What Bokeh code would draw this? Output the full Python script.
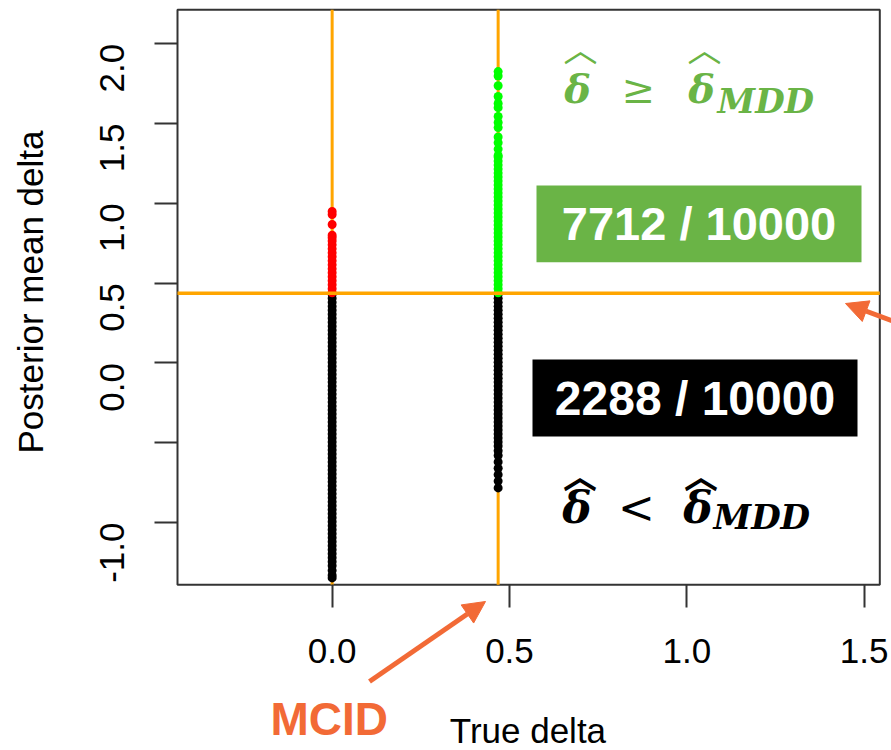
import math
from bokeh.plotting import figure
from bokeh.models import (Range1d, FixedTicker, BoxAnnotation, Label, Arrow,
                          NormalHead, ColumnDataSource, PrintfTickFormatter)
from bokeh.embed import file_html
from bokeh.resources import INLINE

# ---------------- data ----------------
mcid = 0.468          # true delta of the second scenario (= MCID)
mdd = 0.437           # posterior-mean threshold (delta_MDD)

xlim = (-0.436, 1.544)   # plotting region (R "usr")
ylim = (-1.39, 2.213)

x_ticks = [0.0, 0.5, 1.0, 1.5]
y_ticks = [-1.0, -0.5, 0.0, 0.5, 1.0, 1.5, 2.0]

# true delta = 0, posterior mean >= MDD (red)
red_y = [0.44, 0.465, 0.49, 0.515, 0.54, 0.565, 0.59, 0.615, 0.64, 0.665, 0.69,
         0.715, 0.74, 0.765, 0.785, 0.80, 0.868, 0.93, 0.949]
# true delta = 0, posterior mean < MDD (black)
black0_y = [0.43, 0.405, 0.38, 0.355, 0.33, 0.305, 0.28, 0.255, 0.23, 0.205, 0.18,
            0.155, 0.13, 0.105, 0.08, 0.055, 0.03, 0.005, -0.02, -0.045, -0.07,
            -0.095, -0.12, -0.145, -0.17, -0.195, -0.22, -0.245, -0.27, -0.295,
            -0.32, -0.345, -0.37, -0.395, -0.42, -0.445, -0.47, -0.495, -0.52,
            -0.545, -0.57, -0.595, -0.62, -0.645, -0.67, -0.695, -0.72, -0.745,
            -0.77, -0.795, -0.82, -0.845, -0.87, -0.895, -0.92, -0.945, -0.97,
            -0.995, -1.02, -1.045, -1.07, -1.095, -1.12, -1.145, -1.17, -1.195,
            -1.22, -1.245, -1.27, -1.30, -1.33, -1.347]
# true delta = MCID, posterior mean >= MDD (green)
green_y = [0.44, 0.465, 0.49, 0.515, 0.54, 0.565, 0.59, 0.615, 0.64, 0.665, 0.69,
           0.715, 0.74, 0.765, 0.79, 0.815, 0.84, 0.865, 0.89, 0.915, 0.94, 0.965,
           0.99, 1.015, 1.04, 1.065, 1.09, 1.115, 1.14, 1.165, 1.19, 1.215, 1.24,
           1.265, 1.29, 1.30, 1.34, 1.38, 1.416, 1.475, 1.507, 1.545, 1.60, 1.626,
           1.67, 1.737, 1.798, 1.826]
# true delta = MCID, posterior mean < MDD (black)
black1_y = [0.43, 0.405, 0.38, 0.355, 0.33, 0.305, 0.28, 0.255, 0.23, 0.205, 0.18,
            0.155, 0.13, 0.105, 0.08, 0.055, 0.03, 0.005, -0.02, -0.045, -0.07,
            -0.095, -0.12, -0.145, -0.17, -0.195, -0.22, -0.245, -0.27, -0.295,
            -0.32, -0.345, -0.37, -0.395, -0.42, -0.445, -0.47, -0.495, -0.52,
            -0.55, -0.58, -0.62, -0.66, -0.70, -0.74, -0.783]

count_hi = "7712 / 10000"
count_lo = "2288 / 10000"

# ---------------- page geometry ----------------
W, H = 891, 750
box_px = (177.0, 879.3, 9.3, 584.3)      # left, right, top, bottom of the R box
sx = (box_px[1] - box_px[0]) / (xlim[1] - xlim[0])
sy = (box_px[3] - box_px[2]) / (ylim[1] - ylim[0])
x_rng = (xlim[0] - box_px[0] / sx, xlim[1] + (W - box_px[1]) / sx)
y_rng = (ylim[0] - (H - box_px[3]) / sy, ylim[1] + box_px[2] / sy)

def dx(px):   # page pixel -> data x (for placing annotations)
    return xlim[0] + (px - box_px[0]) / sx

def dy(py):   # page pixel -> data y
    return ylim[1] - (py - box_px[2]) / sy

p = figure(width=W, height=H,
           x_range=Range1d(*x_rng), y_range=Range1d(*y_rng),
           output_backend="svg", toolbar_location=None,
           min_border=0, min_border_left=0, min_border_right=0,
           min_border_top=0, min_border_bottom=0)
p.grid.visible = False
p.background_fill_color = "white"
p.border_fill_color = "white"
p.outline_line_color = None

# plot box
p.add_layout(BoxAnnotation(left=xlim[0], right=xlim[1], bottom=ylim[0], top=ylim[1],
                           fill_alpha=0, line_color="#333333", line_alpha=1,
                           line_width=2, level="underlay"))

# vertical reference lines (under the points)
p.segment(x0=[0.0, mcid], y0=[ylim[0]] * 2, x1=[0.0, mcid], y1=[ylim[1]] * 2,
          line_color="#FFA500", line_width=3)

def pts(xv, ys, color):
    src = ColumnDataSource(dict(x=[xv] * len(ys), y=ys))
    p.scatter("x", "y", source=src, size=9, fill_color=color, line_color=None)

pts(0.0, black0_y, "black")
pts(0.0, red_y, "#FF0000")
pts(mcid, black1_y, "black")
pts(mcid, green_y, "#00FF00")

# horizontal threshold line (over the points)
p.segment(x0=[xlim[0]], y0=[mdd], x1=[xlim[1]], y1=[mdd],
          line_color="#FFA500", line_width=3.5)

# ---------------- axes ----------------
for ax in (p.xaxis[0], p.yaxis[0]):
    ax.axis_line_color = None
    ax.minor_tick_line_color = None
    ax.major_tick_in = 0
    ax.major_tick_out = 23
    ax.major_tick_line_width = 2
    ax.major_tick_line_color = "#333333"
    ax.major_label_text_font = "Liberation Sans"
    ax.major_label_text_font_size = "35px"
    ax.major_label_text_color = "black"
    ax.formatter = PrintfTickFormatter(format="%.1f")

p.xaxis.fixed_location = ylim[0]
p.yaxis.fixed_location = xlim[0]
p.xaxis.ticker = FixedTicker(ticks=x_ticks)
p.yaxis.ticker = FixedTicker(ticks=y_ticks)
p.yaxis.major_label_overrides = {-0.5: ""}
p.yaxis.major_label_orientation = math.pi / 2
p.xaxis.major_label_standoff = 31
p.yaxis.major_label_standoff = 42

# axis titles, centred on the plotting box
p.add_layout(Label(x=(xlim[0] + xlim[1]) / 2 - 0.002, y=dy(730), text="True delta",
                   text_color="black", text_font="Liberation Sans",
                   text_font_size="35px", text_align="center", text_baseline="middle"))
p.add_layout(Label(x=dx(29.6), y=dy(291.5), text="Posterior mean delta", angle=math.pi / 2,
                   text_color="black", text_font="Liberation Sans",
                   text_font_size="35px", text_align="center", text_baseline="middle"))

# ---------------- annotations ----------------
green = "#6AB446"
p.add_layout(BoxAnnotation(left=dx(536), right=dx(861), bottom=dy(261.7), top=dy(185),
                           fill_color=green, fill_alpha=1, line_color=None))
p.add_layout(BoxAnnotation(left=dx(532), right=dx(857), bottom=dy(436), top=dy(359),
                           fill_color="black", fill_alpha=1, line_color=None))
p.add_layout(Label(x=dx(698.5), y=dy(223.3), text=count_hi,
                   text_color="white", text_font="Liberation Sans",
                   text_font_style="bold", text_font_size="47px",
                   text_align="center", text_baseline="middle"))
p.add_layout(Label(x=dx(694.5), y=dy(397.5), text=count_lo,
                   text_color="white", text_font="Liberation Sans",
                   text_font_style="bold", text_font_size="48px",
                   text_align="center", text_baseline="middle"))

def formula(xs_px, ymid_px, ysub_px, yhat_px, op, color, size, hat_style):
    for xi in (xs_px[0], xs_px[2]):
        p.add_layout(Label(x=dx(xi), y=dy(ymid_px), text="\u03b4", text_color=color,
                           text_font="DejaVu Serif", text_font_style="bold italic",
                           text_font_size=size, text_align="center",
                           text_baseline="middle"))
        p.add_layout(Label(x=dx(xi + 3), y=dy(yhat_px), text="\ufe3f", text_color=color,
                           text_font="Noto Sans CJK SC", text_font_style=hat_style,
                           text_font_size="34px", text_align="center",
                           text_baseline="middle"))
    p.add_layout(Label(x=dx(xs_px[1]), y=dy(ymid_px), text=op, text_color=color,
                       text_font="DejaVu Serif", text_font_style="normal",
                       text_font_size=size, text_align="center", text_baseline="middle"))
    p.add_layout(Label(x=dx(xs_px[3]), y=dy(ysub_px), text="MDD", text_color=color,
                       text_font="DejaVu Serif", text_font_style="bold italic",
                       text_font_size="34px", text_align="left", text_baseline="middle"))

formula([577, 638, 701, 717], 88, 100, 47, "\u2265", green, "40px", "normal")
formula([576.5, 636, 697.5, 713], 507, 516, 474, "<", "black", "44px", "bold")

arrow_col = "#F26A36"
p.add_layout(Label(x=dx(270), y=dy(718), text="MCID", text_color=arrow_col,
                   text_font="Liberation Sans", text_font_style="bold",
                   text_font_size="46px", text_align="left", text_baseline="middle"))
p.add_layout(Arrow(x_start=dx(369), y_start=dy(681), x_end=dx(485), y_end=dy(601),
                   line_color=arrow_col, line_width=5,
                   end=NormalHead(size=22, fill_color=arrow_col, line_color=arrow_col)))
p.add_layout(Arrow(x_start=dx(896), y_start=dy(322), x_end=dx(845), y_end=dy(303),
                   line_color=arrow_col, line_width=5,
                   end=NormalHead(size=22, fill_color=arrow_col, line_color=arrow_col)))

open("out.html", "w").write(file_html(p, INLINE))
